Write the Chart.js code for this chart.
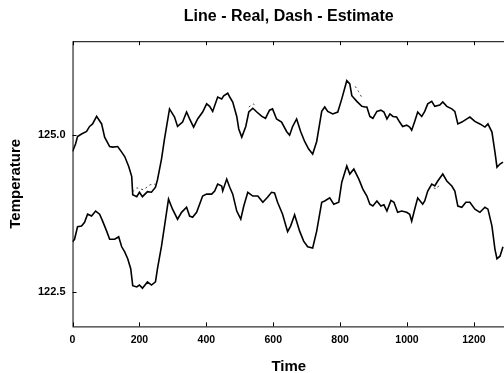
<!DOCTYPE html>
<html>
<head>
<meta charset="utf-8">
<script src="https://cdn.jsdelivr.net/npm/chart.js@4.4.0/dist/chart.umd.min.js"></script>
<style>
html, body { margin: 0; padding: 0; background: #fff; overflow: hidden; }
</style>
</head>
<body>
<canvas id="tempChart" width="510" height="380"></canvas>
<script>
// upper run (real)
var upperTime = [0, 9, 15, 27, 42, 51, 60, 72, 87, 96, 111, 120, 135, 147, 156, 168, 177, 180, 192, 200,
	209, 224, 236, 248, 254, 266, 275, 290, 305, 314, 329, 341, 350, 362, 374, 389, 401, 410, 419, 434,
	446, 452, 464, 470, 479, 491, 497, 506, 518, 527, 539, 551, 566, 577, 589, 598, 610, 625, 640, 649,
	658, 670, 682, 694, 706, 718, 730, 745, 754, 763, 778, 793, 805, 820, 829, 835, 850, 865, 874, 880,
	889, 898, 910, 922, 931, 940, 949, 958, 969, 978, 987, 999, 1008, 1014, 1023, 1032, 1044, 1053, 1062, 1074,
	1083, 1098, 1107, 1119, 1134, 1143, 1152, 1164, 1179, 1188, 1203, 1218, 1233, 1242, 1254, 1263, 1269, 1278, 1287];
var upperTemp = [124.74, 124.86, 124.98, 125.02, 125.06, 125.14, 125.18, 125.30, 125.18, 124.97, 124.82, 124.81, 124.82, 124.73, 124.66, 124.50, 124.34, 124.05, 124.02, 124.09,
	124.02, 124.10, 124.09, 124.17, 124.29, 124.62, 124.94, 125.42, 125.29, 125.14, 125.21, 125.37, 125.26, 125.13, 125.26, 125.37, 125.50, 125.46, 125.38, 125.61,
	125.58, 125.63, 125.67, 125.61, 125.53, 125.30, 125.10, 124.97, 125.14, 125.37, 125.43, 125.37, 125.30, 125.27, 125.40, 125.42, 125.26, 125.21, 125.06, 125.00,
	125.14, 125.26, 125.06, 124.90, 124.78, 124.70, 124.90, 125.38, 125.45, 125.38, 125.34, 125.37, 125.58, 125.87, 125.82, 125.63, 125.54, 125.46, 125.45, 125.45,
	125.30, 125.27, 125.38, 125.40, 125.37, 125.26, 125.34, 125.30, 125.29, 125.21, 125.14, 125.16, 125.13, 125.08, 125.22, 125.37, 125.30, 125.38, 125.50, 125.54,
	125.46, 125.48, 125.53, 125.46, 125.42, 125.38, 125.18, 125.21, 125.26, 125.29, 125.22, 125.18, 125.13, 125.18, 125.05, 124.73, 124.49, 124.54, 124.57];

// lower run (real)
var lowerTime = [0, 6, 15, 27, 36, 45, 57, 69, 81, 90, 102, 111, 126, 138, 147, 156, 165, 174, 180, 192,
	200, 209, 224, 236, 248, 254, 266, 275, 287, 299, 314, 326, 341, 350, 359, 371, 389, 401, 416, 425,
	434, 446, 449, 461, 470, 479, 491, 503, 512, 524, 539, 554, 569, 583, 595, 604, 613, 628, 643, 652,
	664, 679, 691, 703, 718, 730, 745, 754, 769, 781, 796, 805, 820, 829, 841, 856, 868, 880, 889, 898,
	910, 922, 931, 940, 952, 961, 972, 984, 999, 1008, 1014, 1023, 1032, 1047, 1053, 1062, 1074, 1083, 1092, 1107,
	1119, 1134, 1143, 1152, 1164, 1176, 1188, 1203, 1218, 1233, 1242, 1254, 1263, 1269, 1278, 1287];
var lowerTemp = [123.30, 123.34, 123.54, 123.55, 123.61, 123.74, 123.71, 123.79, 123.74, 123.63, 123.47, 123.34, 123.34, 123.38, 123.22, 123.14, 123.03, 122.87, 122.60, 122.58,
	122.61, 122.56, 122.66, 122.61, 122.66, 122.87, 123.23, 123.55, 123.98, 123.82, 123.66, 123.77, 123.85, 123.71, 123.69, 123.77, 124.03, 124.06, 124.06, 124.11,
	124.22, 124.19, 124.11, 124.30, 124.17, 124.06, 123.79, 123.66, 123.87, 124.09, 124.03, 124.03, 123.93, 124.01, 124.09, 124.08, 123.93, 123.74, 123.46, 123.55,
	123.73, 123.47, 123.31, 123.22, 123.20, 123.47, 123.93, 123.95, 124.00, 123.90, 123.93, 124.25, 124.51, 124.38, 124.46, 124.30, 124.14, 124.03, 123.90, 123.87,
	123.95, 123.87, 123.89, 123.79, 123.96, 123.93, 123.77, 123.79, 123.77, 123.74, 123.63, 123.82, 124.00, 123.90, 123.95, 124.11, 124.22, 124.19, 124.27, 124.38,
	124.27, 124.19, 124.11, 123.87, 123.85, 123.93, 123.93, 123.82, 123.77, 123.85, 123.82, 123.55, 123.18, 123.03, 123.07, 123.22];

// estimates, only where they part from the real line (null = gap)
var upperEstTime = [180, 192, 212, 232, 248, 260, 527, 540, 551, 560, 845, 855, 865];
var upperEstTemp = [124.10, 124.16, 124.13, 124.21, 124.22, null, 125.45, 125.50, 125.46, null, 125.78, 125.70, 125.60];
var lowerEstTime = [1080, 1088, 1096];
var lowerEstTemp = [124.16, 124.14, 124.20];

var xTickStep = 200;
var yTickStep = 2.5;

function pairs(t, v) {
	var out = [];
	for (var i = 0; i < Math.min(t.length, v.length); i++) {
		out.push({ x: t[i], y: v[i] });
	}
	return out;
}

var boldFont = function(size) {
	return { family: "'Liberation Sans', Arial, sans-serif", size: size, weight: 'bold' };
};

// closed frame with small inward tick marks
var frameTicks = {
	id: 'frameTicks',
	afterDraw: function(chart) {
		var a = chart.chartArea, c = chart.ctx;
		var xs = chart.scales.x, ys = chart.scales.y;
		c.save();
		c.strokeStyle = '#000';
		c.lineWidth = 1;
		c.strokeRect(a.left + 0.5, a.top + 0.5, a.right - a.left, a.bottom - a.top);
		c.beginPath();
		xs.ticks.forEach(function(t) {
			var px = Math.round(xs.getPixelForValue(t.value)) + 0.5;
			c.moveTo(px, a.bottom); c.lineTo(px, a.bottom - 4);
			c.moveTo(px, a.top); c.lineTo(px, a.top + 4);
		});
		ys.ticks.forEach(function(t) {
			var py = Math.round(ys.getPixelForValue(t.value)) + 0.5;
			c.moveTo(a.left, py); c.lineTo(a.left + 4, py);
		});
		c.stroke();
		c.restore();
	}
};

var realStyle = { borderColor: '#000', borderWidth: 1.6, pointRadius: 0, tension: 0, fill: false };
var estStyle = { borderColor: '#444', borderWidth: 1, borderDash: [2, 3], pointRadius: 0, tension: 0, fill: false, spanGaps: false };

var ctx = document.getElementById('tempChart');
var chart = new Chart(ctx, {
	type: 'line',
	data: {
		datasets: [
			Object.assign({ label: 'Real', data: pairs(upperTime, upperTemp) }, realStyle),
			Object.assign({ label: 'Real', data: pairs(lowerTime, lowerTemp) }, realStyle),
			Object.assign({ label: 'Estimate', data: pairs(upperEstTime, upperEstTemp) }, estStyle),
			Object.assign({ label: 'Estimate', data: pairs(lowerEstTime, lowerEstTemp) }, estStyle)
		]
	},
	options: {
		responsive: false,
		animation: false,
		layout: { padding: { left: 0, right: 5, top: 0, bottom: 0 } },
		plugins: {
			legend: { display: false },
			tooltip: { enabled: false },
			title: {
				display: true,
				text: 'Line - Real, Dash - Estimate',
				fullSize: false,
				color: '#000',
				font: boldFont(16),
				padding: { top: 7, bottom: 15 }
			}
		},
		scales: {
			x: {
				type: 'linear',
				min: 0,
				max: 1293,
				grid: { display: false, drawTicks: false },
				border: { display: false },
				ticks: {
					stepSize: xTickStep,
					includeBounds: false,
					autoSkip: false,
					maxRotation: 0,
					padding: 7,
					color: '#000',
					font: boldFont(10.5),
					callback: function(v) { return String(v); }
				},
				title: { display: true, text: 'Time', color: '#000', font: boldFont(15), padding: { top: 5, bottom: 4 } }
			},
			y: {
				min: 121.95,
				max: 126.5,
				grid: { display: false, drawTicks: false },
				border: { display: false },
				ticks: {
					stepSize: yTickStep,
					includeBounds: false,
					padding: 7,
					color: '#000',
					font: boldFont(11),
					callback: function(v) { return v.toFixed(1); }
				},
				title: { display: true, text: 'Temperature', color: '#000', font: boldFont(15), padding: { top: 7, bottom: 6 } }
			}
		}
	},
	plugins: [frameTicks]
});
</script>
</body>
</html>
